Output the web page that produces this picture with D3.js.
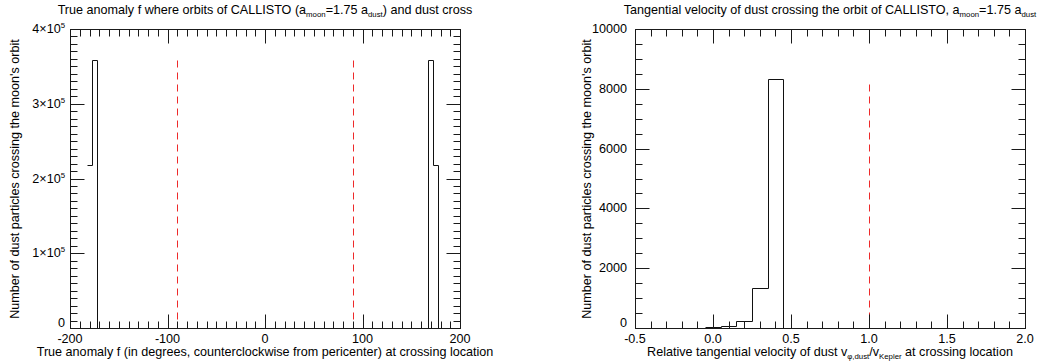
<!DOCTYPE html>
<html>
<head>
<meta charset="utf-8">
<script src="https://cdn.jsdelivr.net/npm/d3@7"></script>
<style>
  html, body { margin: 0; padding: 0; background: #fff; }
  svg { display: block; font-family: "Liberation Sans", Arial, sans-serif; }
</style>
</head>
<body>
<svg id="chart" width="1040" height="363"></svg>
<script>
// True-anomaly histogram: 5° bins centred from -180° to 180°
const anomalyBins = d3.range(-180, 185, 5);
const anomalyCounts = [
  218000, 358000,
  0, 0, 0, 0, 0, 0, 0, 0, 0, 0, 0, 0, 0, 0, 0, 0, 0,
  0, 0, 0, 0, 0, 0, 0, 0, 0, 0, 0, 0, 0, 0, 0, 0, 0,
  0, 0, 0, 0, 0, 0, 0, 0, 0, 0, 0, 0, 0, 0, 0, 0, 0,
  0, 0, 0, 0, 0, 0, 0, 0, 0, 0, 0, 0, 0, 0, 0, 0, 0,
  358000, 218000, 0
];
const anomalyMarkers = [-90, 90];
const anomalyMarkerTop = 358000;
const anomalyXTicks = [-200, -100, 0, 100, 200];
const anomalyYTicks = [0, 1, 2, 3, 4];   // multiples of 10^5

// Relative tangential velocity histogram: bins of 0.1
const velocityBins = [0.0, 0.1, 0.2, 0.3, 0.4, 0.5];
const velocityCounts = [20, 60, 240, 1350, 8330, 0];
const velocityMarkers = [1.0];
const velocityMarkerTop = 8150;
const velocityXTicks = [-0.5, 0.0, 0.5, 1.0, 1.5, 2.0];
const velocityYTicks = [0, 2000, 4000, 6000, 8000, 10000];

const svg = d3.select("#chart");
const FONT = 12.6;
const px = v => Math.round(v) + 0.5;   // snap to pixel centre for crisp 1px strokes

// Text with inline sub/superscripts: parts = [[text, "sub"|"sup"|null], ...]
function richText(g, x, y, parts, anchor) {
  const t = g.append("text")
    .attr("x", x).attr("y", y).attr("text-anchor", anchor)
    .attr("font-size", FONT).attr("fill", "#000");
  let shift = 0;
  parts.forEach(([s, kind]) => {
    const target = kind === "sub" ? 3 : kind === "sup" ? -5 : 0;
    const sp = t.append("tspan").attr("dy", target - shift).text(s);
    if (kind) sp.attr("font-size", FONT * 0.62);
    shift = target;
  });
  return t;
}

function plainText(g, x, y, s, anchor) {
  return g.append("text").attr("x", x).attr("y", y).attr("text-anchor", anchor)
    .attr("font-size", FONT).attr("fill", "#000").text(s);
}

// Plot frame plus inward-pointing ticks on all four sides, drawn as one path
function boxAxes(panel, sx, sy, xMajor, xMinor, yMajor, yMinor) {
  const [left, right] = sx.range().map(px);
  const [bottom, top] = sy.range().map(px);
  const p = d3.path();
  p.rect(left, top, right - left, bottom - top);
  const xs = [...xMinor.map(v => [v, 7]), ...xMajor.map(v => [v, 14])];
  const ys = [...yMinor.map(v => [v, 7]), ...yMajor.map(v => [v, 14])];
  xs.forEach(([v, len]) => {
    const x = px(sx(v));
    p.moveTo(x, bottom); p.lineTo(x, bottom - len);
    p.moveTo(x, top); p.lineTo(x, top + len);
  });
  ys.forEach(([v, len]) => {
    const y = px(sy(v));
    p.moveTo(left, y); p.lineTo(left + len, y);
    p.moveTo(right, y); p.lineTo(right - len, y);
  });
  panel.append("path").attr("d", p.toString())
    .attr("fill", "none").attr("stroke", "#1a1a1a").attr("stroke-width", 1);
}

function stepPath(panel, sx, sy, bins, counts) {
  const half = (bins[1] - bins[0]) / 2;
  const pts = [];
  bins.forEach((c, i) => { pts.push([c - half, counts[i]]); pts.push([c + half, counts[i]]); });
  panel.append("path")
    .attr("d", d3.line().x(q => px(sx(q[0]))).y(q => px(sy(q[1])))(pts))
    .attr("fill", "none").attr("stroke", "#111").attr("stroke-width", 1);
}

function markers(panel, sx, sy, vals, topVal) {
  vals.forEach(v => {
    panel.append("path")
      .attr("d", `M${px(sx(v))},${px(sy(topVal))}V${px(sy(0))}`)
      .attr("fill", "none")
      .attr("stroke", "#ee2a2a").attr("stroke-width", 1)
      .attr("stroke-dasharray", "7,5");
  });
}

function yTitle(panel, cx, cy) {
  panel.append("text")
    .attr("transform", `translate(${cx},${cy}) rotate(-90)`)
    .attr("text-anchor", "middle").attr("font-size", FONT).attr("fill", "#000")
    .text("Number of dust particles crossing the moon's orbit");
}

// ---------- left panel: true anomaly ----------
const leftPanel = svg.append("g");
const ax = d3.scaleLinear().domain([-200, 200]).range([70, 460]);
const ay = d3.scaleLinear().domain([0, 400000]).range([328, 29]);

stepPath(leftPanel, ax, ay, anomalyBins, anomalyCounts);
markers(leftPanel, ax, ay, anomalyMarkers, anomalyMarkerTop);
boxAxes(leftPanel, ax, ay, anomalyXTicks, d3.range(-200, 201, 10),
        anomalyYTicks.map(m => m * 1e5), d3.range(0, 400001, 10000));

anomalyXTicks.forEach(v => plainText(leftPanel, ax(v), 343, String(v), "middle"));
anomalyYTicks.forEach(m => {
  if (m === 0) plainText(leftPanel, 65, ay(0) - 1, "0", "end");
  else richText(leftPanel, 65, ay(m * 1e5) + 4, [[m + "×10", null], ["5", "sup"]], "end");
});

richText(leftPanel, 265, 14, [
  ["True anomaly f where orbits of CALLISTO (a", null], ["moon", "sub"],
  ["=1.75 a", null], ["dust", "sub"], [") and dust cross", null]
], "middle");
plainText(leftPanel, 265, 356,
  "True anomaly f (in degrees, counterclockwise from pericenter) at crossing location", "middle");
yTitle(leftPanel, 19, 179);

// ---------- right panel: tangential velocity ----------
const rightPanel = svg.append("g");
const vx = d3.scaleLinear().domain([-0.5, 2.0]).range([635, 1025]);
const vy = d3.scaleLinear().domain([0, 10000]).range([328, 29]);

stepPath(rightPanel, vx, vy, velocityBins, velocityCounts);
markers(rightPanel, vx, vy, velocityMarkers, velocityMarkerTop);
boxAxes(rightPanel, vx, vy, velocityXTicks, d3.range(-5, 21, 1).map(k => k / 10),
        velocityYTicks, d3.range(0, 10001, 500));

velocityXTicks.forEach(v => plainText(rightPanel, vx(v), 343, v.toFixed(1), "middle"));
velocityYTicks.forEach(v => plainText(rightPanel, 627, v === 0 ? vy(0) - 1 : vy(v) + 4, String(v), "end"));

richText(rightPanel, 830, 14, [
  ["Tangential velocity of dust crossing the orbit of CALLISTO, a", null], ["moon", "sub"],
  ["=1.75 a", null], ["dust", "sub"]
], "middle");
richText(rightPanel, 830, 356, [
  ["Relative tangential velocity of dust v", null], ["φ,dust", "sub"],
  ["/v", null], ["Kepler", "sub"], [" at crossing location", null]
], "middle");
yTitle(rightPanel, 591, 179);
</script>
</body>
</html>
